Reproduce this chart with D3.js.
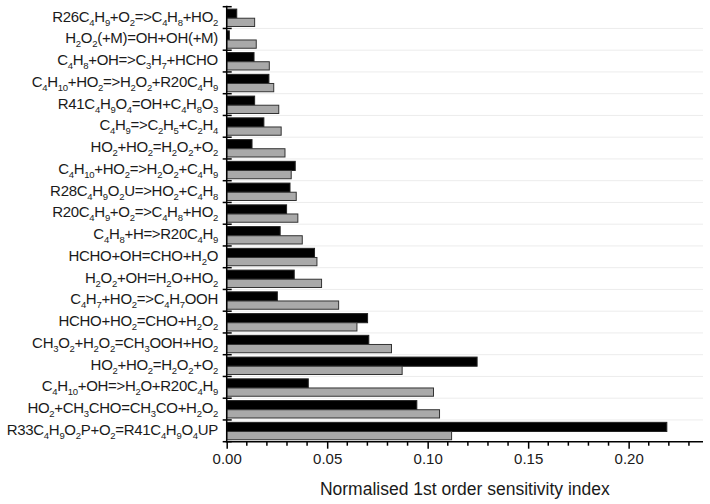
<!DOCTYPE html>
<html>
<head>
<meta charset="utf-8">
<script src="https://cdn.jsdelivr.net/npm/d3@7"></script>
<style>
  html, body { margin: 0; padding: 0; background: #fff; }
  svg { display: block; font-family: "Liberation Sans", Arial, sans-serif; }
</style>
</head>
<body>
<svg id="chart" width="710" height="504"></svg>
<script>
// Reaction labels (underscore + digits = subscript)
const categories = [
  "R26C_4H_9+O_2=>C_4H_8+HO_2",
  "H_2O_2(+M)=OH+OH(+M)",
  "C_4H_8+OH=>C_3H_7+HCHO",
  "C_4H_10+HO_2=>H_2O_2+R20C_4H_9",
  "R41C_4H_9O_4=OH+C_4H_8O_3",
  "C_4H_9=>C_2H_5+C_2H_4",
  "HO_2+HO_2=H_2O_2+O_2",
  "C_4H_10+HO_2=>H_2O_2+C_4H_9",
  "R28C_4H_9O_2U=>HO_2+C_4H_8",
  "R20C_4H_9+O_2=>C_4H_8+HO_2",
  "C_4H_8+H=>R20C_4H_9",
  "HCHO+OH=CHO+H_2O",
  "H_2O_2+OH=H_2O+HO_2",
  "C_4H_7+HO_2=>C_4H_7OOH",
  "HCHO+HO_2=CHO+H_2O_2",
  "CH_3O_2+H_2O_2=CH_3OOH+HO_2",
  "HO_2+HO_2=H_2O_2+O_2",
  "C_4H_10+OH=>H_2O+R20C_4H_9",
  "HO_2+CH_3CHO=CH_3CO+H_2O_2",
  "R33C_4H_9O_2P+O_2=R41C_4H_9O_4UP"
];
// black series
const seriesBlack = [0.0050, 0.0013, 0.0136, 0.0210, 0.0139, 0.0185, 0.0126, 0.0341, 0.0315, 0.0298,
                     0.0266, 0.0437, 0.0336, 0.0252, 0.0701, 0.0707, 0.1246, 0.0406, 0.0946, 0.2190];
// grey series
const seriesGrey  = [0.0139, 0.0147, 0.0212, 0.0234, 0.0259, 0.0271, 0.0290, 0.0321, 0.0346, 0.0354,
                     0.0376, 0.0449, 0.0472, 0.0557, 0.0648, 0.0820, 0.0873, 0.1029, 0.1059, 0.1119];
const majorTicks = [0, 0.05, 0.10, 0.15, 0.20];
const minorTicks = [0.01,0.02,0.03,0.04,0.06,0.07,0.08,0.09,0.11,0.12,0.13,0.14,0.16,0.17,0.18,0.19,0.21,0.22,0.23];
const xTitle = "Normalised 1st order sensitivity index";

const svg = d3.select("#chart");
const L = 226.7, R = 703, T = 6.7, B = 441.7;

const x = d3.scaleLinear().domain([0, 0.237]).range([L, R]);
// use row index as band key (one reaction appears twice)
const y = d3.scaleBand().domain(d3.range(categories.length)).range([T, B]).padding(0);
const bw = y.bandwidth();

// gridlines at band boundaries
const bounds = categories.map((c, i) => y(i)).concat([B]);
svg.append("g").selectAll("line").data(bounds.slice(1, -1)).join("line")
  .attr("x1", L).attr("x2", R)
  .attr("y1", d => d).attr("y2", d => d)
  .attr("stroke", "#ececec").attr("stroke-width", 1);

// bars
const data = categories.map((c, i) => ({i, c, b: seriesBlack[i], g: seriesGrey[i]}));
const gBars = svg.append("g");
gBars.selectAll("rect.blk").data(data).join("rect")
  .attr("class", "blk")
  .attr("x", x(0)).attr("y", d => y(d.i) + bw * 0.11)
  .attr("width", d => x(d.b) - x(0)).attr("height", bw * 0.42)
  .attr("fill", "#000").attr("stroke", "#222").attr("stroke-width", 1);
gBars.selectAll("rect.gry").data(data).join("rect")
  .attr("class", "gry")
  .attr("x", x(0)).attr("y", d => y(d.i) + bw * 0.53)
  .attr("width", d => x(d.g) - x(0)).attr("height", bw * 0.38)
  .attr("fill", "#a9a9a9").attr("stroke", "#333").attr("stroke-width", 1);

// left axis line & ticks at band boundaries
const gl = svg.append("g");
gl.append("line").attr("x1", L).attr("x2", L).attr("y1", T - 1).attr("y2", B)
  .attr("stroke", "#000").attr("stroke-width", 1.5);
gl.selectAll("line.tk").data(bounds).join("line").attr("class", "tk")
  .attr("x1", L - 4).attr("x2", L + 5)
  .attr("y1", d => d).attr("y2", d => d)
  .attr("stroke", "#000").attr("stroke-width", 1.5);

// category labels with subscripts
const lab = svg.append("g").selectAll("text").data(data).join("text")
  .attr("x", 218).attr("y", d => y(d.i) + bw / 2 + 4)
  .attr("text-anchor", "end").attr("font-size", 15).attr("fill", "#1a1a1a")
  .attr("letter-spacing", -0.3);
lab.each(function(d) {
  const t = d3.select(this);
  const parts = d.c.split(/_(\d+)/);
  let sub = false;
  parts.forEach((p, i) => {
    if (p === "") { return; }
    if (i % 2 === 1) {
      t.append("tspan").attr("font-size", 9.5).attr("dy", sub ? 0 : 4).text(p);
      sub = true;
    } else {
      t.append("tspan").attr("dy", sub ? -4 : 0).text(p);
      sub = false;
    }
  });
});

// bottom axis
const gx = svg.append("g").attr("transform", `translate(0,${B})`);
gx.call(d3.axisBottom(x).tickValues(majorTicks).tickFormat(d3.format(".2f"))
  .tickSizeInner(7).tickSizeOuter(0).tickPadding(5));
gx.select(".domain").attr("stroke-width", 1.5).attr("d", `M${L - 1},0H${R}`);
gx.selectAll(".tick line").attr("stroke-width", 1.5);
gx.selectAll(".tick text").attr("font-size", 15).attr("font-family", "Liberation Sans, Arial, sans-serif").attr("fill", "#1a1a1a");
const gm = svg.append("g").attr("transform", `translate(0,${B})`);
gm.selectAll("line").data(minorTicks).join("line")
  .attr("x1", d => x(d)).attr("x2", d => x(d)).attr("y1", 0).attr("y2", 4)
  .attr("stroke", "#000").attr("stroke-width", 1.5);

// axis title
svg.append("text").attr("x", (L + R) / 2).attr("y", 495)
  .attr("text-anchor", "middle").attr("font-size", 17.5).attr("fill", "#1a1a1a")
  .text(xTitle);
</script>
</body>
</html>
